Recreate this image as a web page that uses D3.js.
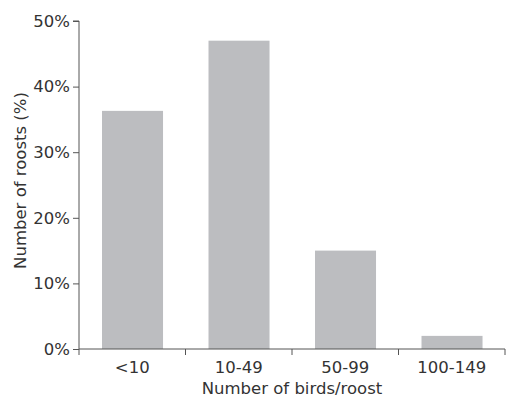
<!DOCTYPE html>
<html><head><meta charset="utf-8">
<script src="https://cdn.jsdelivr.net/npm/d3@7"></script>
<style>body{margin:0;background:#fff}svg{display:block}text{font-family:"DejaVu Sans",Verdana,sans-serif;fill:#333}</style>
</head><body><svg id="c" width="506" height="398"></svg>
<script>
const categories = ["<10", "10-49", "50-99", "100-149"];
const values = [36.3, 47, 15, 2];
const yTicks = [0, 10, 20, 30, 40, 50];

const svg = d3.select("#c");
const m = {l: 79, r: 505, t: 21, b: 349};
const x = d3.scaleBand().domain(categories).range([m.l, m.r]).padding(0);
const y = d3.scaleLinear().domain([0, 50]).range([m.b, m.t]);
const fs = 16.5;

// bars
svg.append("g").selectAll("rect").data(values).join("rect")
  .attr("x", (d, i) => x(categories[i]) + x.bandwidth() * 0.216)
  .attr("width", x.bandwidth() * 0.573)
  .attr("y", d => y(d))
  .attr("height", d => y(0) - y(d))
  .attr("fill", "#bcbdc0");

// y axis
const ya = svg.append("g").attr("transform", `translate(${m.l},0)`)
  .call(d3.axisLeft(y).tickValues(yTicks).tickFormat(d => d + "%").tickSize(6).tickPadding(3));
ya.select(".domain").attr("stroke", "#555").attr("d", `M-6,${m.t}H0V${m.b}`);
ya.selectAll(".tick line").attr("stroke", "#555");
ya.selectAll(".tick text").attr("font-size", fs).attr("fill", "#333").attr("font-family", '"DejaVu Sans",Verdana,sans-serif');

// x axis
const xa = svg.append("g").attr("transform", `translate(0,${m.b})`)
  .call(d3.axisBottom(x).tickSize(0).tickPadding(12));
xa.select(".domain").attr("stroke", "#555").attr("d", `M${m.l},0H${m.r}`);
xa.selectAll(".tick text").attr("font-size", fs).attr("fill", "#333").attr("font-family", '"DejaVu Sans",Verdana,sans-serif');
// boundary ticks
const bounds = categories.map(c => x(c)).concat([m.r]);
xa.selectAll(".bt").data(bounds).join("line").attr("class", "bt")
  .attr("x1", d => d).attr("x2", d => d).attr("y1", 0).attr("y2", 6)
  .attr("stroke", "#555");

// axis titles
svg.append("text").attr("x", 292).attr("y", 394)
  .attr("text-anchor", "middle").attr("font-size", fs).text("Number of birds/roost");
svg.append("text").attr("transform", `translate(26,180.5) rotate(-90)`)
  .attr("text-anchor", "middle").attr("font-size", fs).text("Number of roosts (%)");
</script></body></html>
